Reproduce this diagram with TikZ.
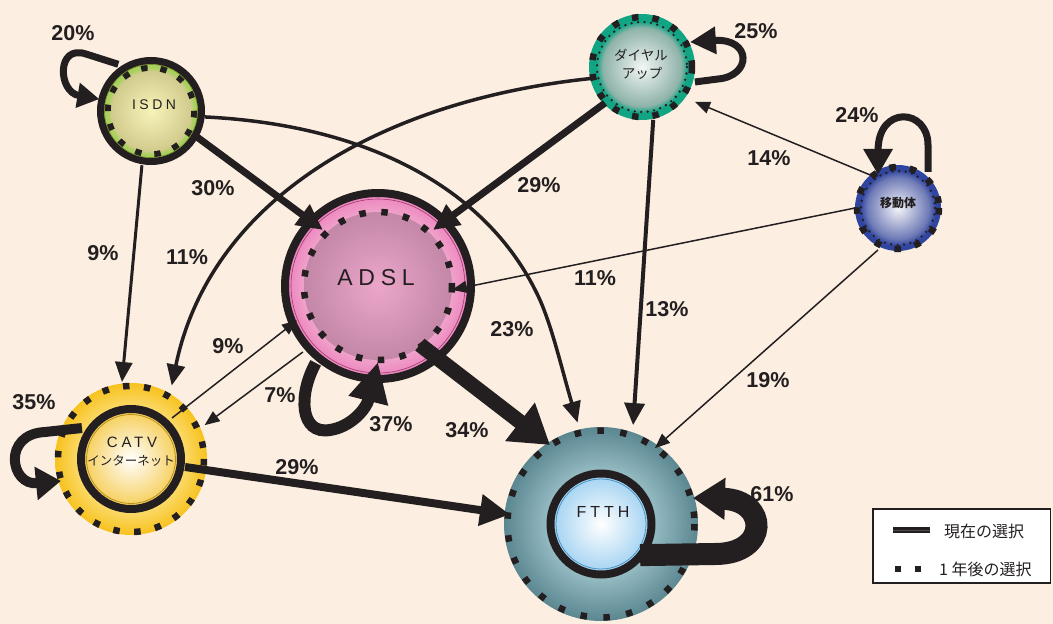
\documentclass[tikz,border=0pt]{standalone}
\usepackage{fontspec}
\setmainfont{Liberation Sans}
\newfontfamily\jp{Noto Sans CJK JP}
\newfontfamily\lsp[LetterSpace=25]{Liberation Sans}
\usetikzlibrary{arrows.meta,calc}
\definecolor{ink}{HTML}{231F20}
\definecolor{bg}{HTML}{FCEFE1}
\definecolor{isA}{HTML}{F7F3B8}
\definecolor{isB}{HTML}{D2CB8E}
\definecolor{isG}{HTML}{A8D05E}
\definecolor{isL}{HTML}{7E9A2A}
\definecolor{dlA}{HTML}{F2F6F5}
\definecolor{dlB}{HTML}{8FB3A9}
\definecolor{dlC}{HTML}{12A584}
\definecolor{mbA}{HTML}{F4F4F8}
\definecolor{mbB}{HTML}{6E7AB6}
\definecolor{mbC}{HTML}{2F45A0}
\definecolor{adP1}{HTML}{EFA6CC}
\definecolor{adP2}{HTML}{EE85BE}
\definecolor{adL}{HTML}{9A3A6E}
\definecolor{adI1}{HTML}{EBA6C9}
\definecolor{adI2}{HTML}{C387A7}
\definecolor{cvM}{HTML}{FBDB6E}
\definecolor{cvB}{HTML}{F8C21E}
\definecolor{cvI}{HTML}{F6CF5C}
\definecolor{cvL}{HTML}{B8901A}
\definecolor{ftA}{HTML}{9EC3CA}
\definecolor{ftB}{HTML}{5B8791}
\definecolor{ftI}{HTML}{A6D4F2}
\definecolor{ftL}{HTML}{4A95C8}
\pgfdeclareradialshading{isdnsh}{\pgfpoint{0bp}{0bp}}{color(0bp)=(isA); color(21bp)=(isB); color(22.8bp)=(isG); color(25bp)=(isG); color(50bp)=(isG)}
\pgfdeclareradialshading{dialsh}{\pgfpoint{0bp}{0bp}}{color(0bp)=(dlA); color(18.5bp)=(dlB); color(21.5bp)=(dlC); color(25bp)=(dlC); color(50bp)=(dlC)}
\pgfdeclareradialshading{mobsh}{\pgfpoint{0bp}{0bp}}{color(0bp)=(mbA); color(18bp)=(mbB); color(22bp)=(mbC); color(25bp)=(mbC); color(50bp)=(mbC)}
\pgfdeclareradialshading{adslout}{\pgfpoint{0bp}{0bp}}{color(0bp)=(adP1); color(20bp)=(adP1); color(25bp)=(adP2); color(50bp)=(adP2)}
\pgfdeclareradialshading{adslin}{\pgfpoint{0bp}{0bp}}{color(0bp)=(adI1); color(25bp)=(adI2); color(50bp)=(adI2)}
\pgfdeclareradialshading{catvout}{\pgfpoint{0bp}{0bp}}{color(0bp)=(white); color(17bp)=(cvM); color(25bp)=(cvB); color(50bp)=(cvB)}
\pgfdeclareradialshading{catvin}{\pgfpoint{0bp}{0bp}}{color(0bp)=(white); color(25bp)=(cvI); color(50bp)=(cvI)}
\pgfdeclareradialshading{ftthout}{\pgfpoint{0bp}{0bp}}{color(0bp)=(ftA); color(12bp)=(ftA); color(25bp)=(ftB); color(50bp)=(ftB)}
\pgfdeclareradialshading{ftthin}{\pgfpoint{0bp}{0bp}}{color(0bp)=(white); color(25bp)=(ftI); color(50bp)=(ftI)}
\tikzset{
  arr/.style n args={3}{draw=ink, line width=#1, -{Triangle[length=#2,width=#3]}},
  pct/.style={text=ink, inner sep=0pt, font=\fontsize{21.5}{21.5}\selectfont\bfseries},
  sq/.style={draw=ink, line width=6.5pt},
  dots/.style={draw=ink, line width=2.6pt, line cap=round, dash pattern=on 0pt off 6.5pt},
  ringline/.style={draw=ink, line width=#1},
  nlab/.style={text=ink, inner sep=0pt},
}
\begin{document}
\begin{tikzpicture}[x=1pt,y=-1pt]
\useasboundingbox (0,0) rectangle (1053,624);
\fill[bg] (0,0) rectangle (1053,624);
% centres
\coordinate (isdn) at (151,111);
\coordinate (dial) at (642,67);
\coordinate (mob) at (898,208);
\coordinate (adsl) at (378,286);
\coordinate (catv) at (131,459);
\coordinate (ftth) at (601,524);
% FTTH
\shade[shading=ftthout] (ftth) circle (97);
\draw[sq, dash pattern=on 6.5pt off 16.5pt] (ftth) circle (93.5);
\shade[shading=ftthin] (ftth) circle (47);
\draw[ftL, line width=0.8pt] (ftth) circle (45);
\draw[ringline=8pt] (ftth) circle (50.5);
% ADSL
\shade[shading=adslout] (adsl) circle (90);
\draw[adL, line width=0.6pt] (adsl) circle (87);
\shade[shading=adslin] (adsl) circle (74);
\draw[sq, dash pattern=on 6.5pt off 15.5pt] (adsl) circle (74);
\draw[ringline=8pt] (adsl) circle (93);
% CATV
\shade[shading=catvout] (catv) circle (76);
\draw[sq, dash pattern=on 6.5pt off 14.5pt] (catv) circle (73);
\shade[shading=catvin] (catv) circle (47);
\draw[cvL, line width=0.8pt] (catv) circle (44.5);
\draw[ringline=8pt] (catv) circle (50);
% ISDN
\shade[shading=isdnsh] (isdn) circle (47.5);
\draw[sq, dash pattern=on 6.5pt off 13pt] (isdn) circle (43.5);
\draw[isL, line width=0.7pt] (isdn) circle (46.5);
\draw[ringline=7pt] (isdn) circle (50.5);
% Dial-up
\shade[shading=dialsh] (dial) circle (53);
\draw[dots] (dial) circle (45);
\draw[sq, dash pattern=on 6.5pt off 14pt] (dial) circle (50);
% Mobile
\shade[shading=mobsh] (mob) circle (43);
\draw[dots] (mob) circle (37);
\draw[sq, dash pattern=on 6.5pt off 14pt] (mob) circle (41);
% node texts
\node[nlab, font=\lsp\fontsize{14}{14}\selectfont] (isdnt) at (154,105) {ISDN};
\node[nlab, font=\lsp\fontsize{23}{23}\selectfont] (adslt) at (376,278) {ADSL};
\node[nlab, font=\lsp\fontsize{16}{16}\selectfont] (fttht) at (603,512) {FTTH};
\node[nlab, font=\lsp\fontsize{15}{15}\selectfont] (catvt1) at (132,442) {CATV};
\node[nlab, font=\jp\fontsize{12.5}{12.5}\selectfont] (catvt2) at (131,461) {インターネット};
\node[nlab, font=\jp\fontsize{13.5}{13.5}\selectfont] (dialt1) at (641,55) {ダイヤル};
\node[nlab, font=\jp\fontsize{13.5}{13.5}\selectfont] (dialt2) at (642,73) {アップ};
\node[nlab, font=\jp\bfseries\fontsize{12}{12}\selectfont] (mobt) at (898,203) {移動体};
% edges
\draw[arr={7pt}{26pt}{24pt}] ($(isdn)+(29.5:53)$) -- ($(adsl)+(225.5:78.5)$);
\draw[arr={3pt}{20pt}{17pt}] ($(isdn)+(99.5:55)$) -- ($(catv)+(263.3:77.5)$);
\draw[arr={3.5pt}{21pt}{18pt}] ($(isdn)+(6.3:54)$) .. controls (370,125) and (490,190) .. (540,300) .. controls (553,330) and (562,370) .. ($(ftth)+(257:104)$);
\draw[arr={7pt}{26pt}{24pt}] ($(dial)+(135.8:51.6)$) -- ($(adsl)+(314.5:78.5)$);
\draw[arr={3.5pt}{21pt}{18pt}] ($(dial)+(167:50)$) .. controls (380,100) and (210,200) .. ($(catv)+(299:84)$);
\draw[arr={4pt}{22pt}{20pt}] ($(dial)+(78:54)$) -- ($(ftth)+(288:104)$);
\draw[arr={7pt}{26pt}{26pt}] ($(dial)+(15.8:55)$) -- (718,79) .. controls (752,76) and (752,38) .. ($(dial)+(332.5:54)$);
\draw[arr={1.5pt}{15pt}{12pt}] ($(mob)+(230:43)$) -- ($(dial)+(33.4:63.5)$);
\draw[arr={1.5pt}{15pt}{12pt}] ($(mob)+(180:43)$) -- ($(adsl)+(3:74)$);
\draw[arr={1.5pt}{15pt}{12pt}] ($(mob)+(115.5:46.5)$) -- ($(ftth)+(305.4:93)$);
\draw[arr={7pt}{26pt}{28pt}] ($(mob)+(309.8:46.9)$) -- (928,145) .. controls (928,108) and (878,105) .. ($(mob)+(239:38.6)$);
\draw[arr={15pt}{38pt}{46pt}] ($(adsl)+(54.5:72)$) -- ($(ftth)+(237.2:94)$);
\draw[arr={1.5pt}{15pt}{12pt}] ($(adsl)+(138.7:100)$) -- ($(catv)+(335.3:81)$);
\draw[arr={1.5pt}{15pt}{12pt}] ($(catv)+(315:58)$) -- ($(adsl)+(157:88)$);
\draw[arr={12pt}{40pt}{38pt}] ($(adsl)+(129:99)$) .. controls (298,395) and (300,435) .. (330,430) .. controls (350,427) and (366,410) .. ($(adsl)+(90:76)$);
\draw[arr={8pt}{30pt}{30pt}] ($(catv)+(8.4:54.6)$) -- ($(ftth)+(186:91.5)$);
\draw[arr={10pt}{25pt}{32pt}] ($(catv)+(212.3:58)$) -- (45,432) .. controls (2,434) and (10,486) .. ($(catv)+(162.6:73.4)$);
\draw[arr={22pt}{32pt}{40pt}] ($(ftth)+(38.5:50)$) -- (715,554) .. controls (770,554) and (768,500) .. ($(ftth)+(344.2:95.6)$);
\draw[arr={7pt}{22pt}{24pt}] ($(isdn)+(235:57)$) -- (86,54) .. controls (56,44) and (58,92) .. ($(isdn)+(193:53)$);
% labels
\node[pct] (p20) at (73,33) {20\%};
\node[pct] (p25) at (756,31) {25\%};
\node[pct] (p24) at (857,115) {24\%};
\node[pct] (p30) at (213,188) {30\%};
\node[pct] (p29a) at (539,185) {29\%};
\node[pct] (p14) at (769,158) {14\%};
\node[pct] (p9a) at (103,253) {9\%};
\node[pct] (p11a) at (187,257) {11\%};
\node[pct] (p11b) at (595,278) {11\%};
\node[pct] (p13) at (667,309) {13\%};
\node[pct] (p23) at (512,329) {23\%};
\node[pct] (p9b) at (228,346) {9\%};
\node[pct] (p7) at (280,395) {7\%};
\node[pct] (p19) at (768,380) {19\%};
\node[pct] (p35) at (34,402) {35\%};
\node[pct] (p37) at (391,424) {37\%};
\node[pct] (p34) at (467,430) {34\%};
\node[pct] (p29b) at (297,467) {29\%};
\node[pct] (p61) at (772,494) {61\%};
% legend
\draw[ink, line width=1.8pt, fill=white] (873,509) rectangle (1050.5,583);
\coordinate (lg1) at (893,530);
\coordinate (lg2) at (930,530);
\draw[ink, line width=6pt] (lg1) -- (lg2);
\draw[gray!60!black, line width=0.6pt] (lg1) -- (lg2);
\fill[ink] (895,566) rectangle (901,572);
\fill[ink] (915,566) rectangle (921,572);
\node[nlab, anchor=west, font=\jp\fontsize{16}{16}\selectfont] (lgt1) at (944,531) {現在の選択};
\node[nlab, anchor=west, font=\jp\fontsize{16}{16}\selectfont] (lgt2) at (939,569) {1 年後の選択};
\end{tikzpicture}
\end{document}
